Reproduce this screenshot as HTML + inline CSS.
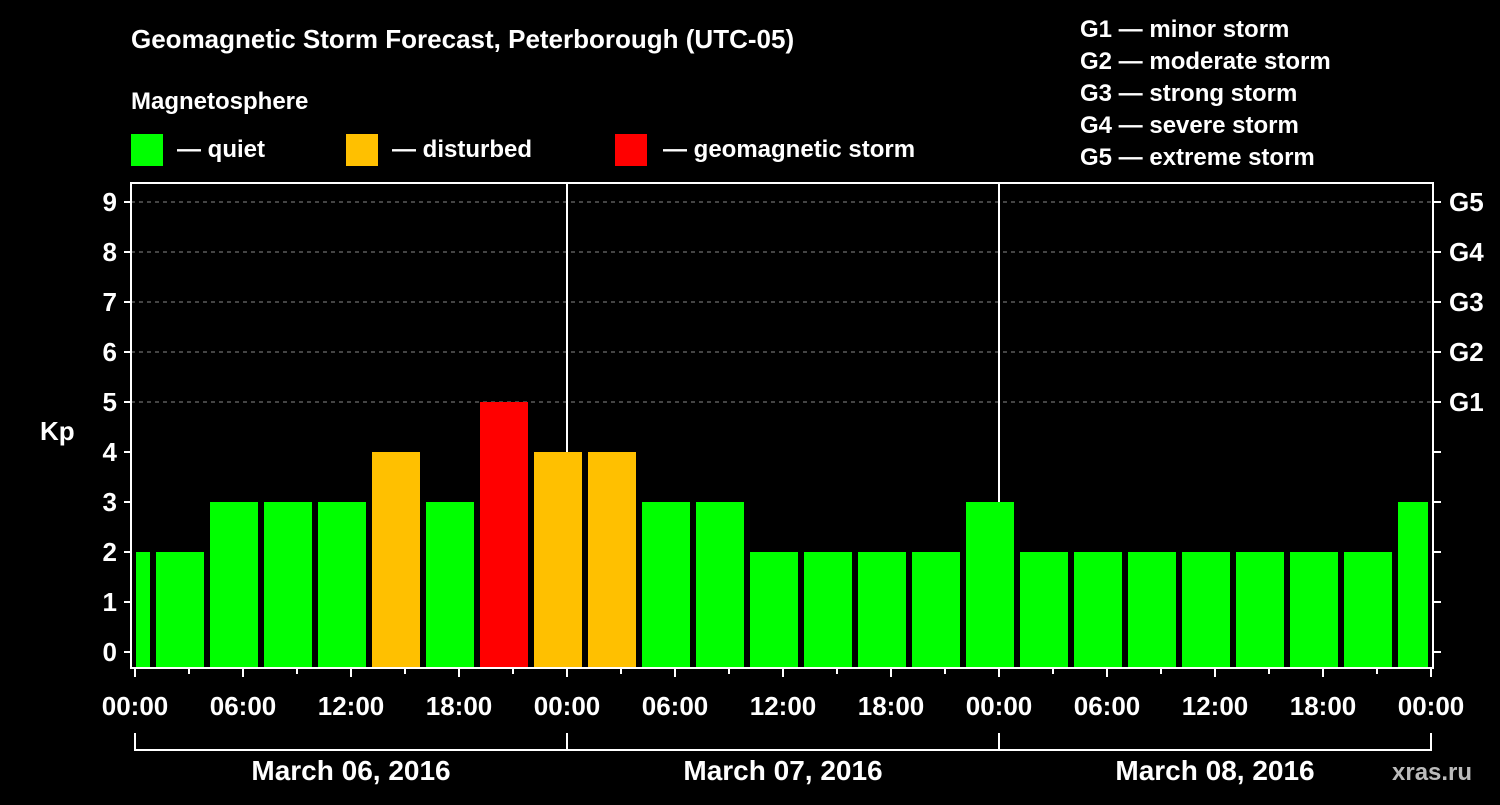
<!DOCTYPE html>
<html><head><meta charset="utf-8"><style>
body{margin:0;background:#000;}
svg text{font-family:"Liberation Sans",Arial,sans-serif;font-weight:bold;fill:#fff;}
</style></head><body>
<svg width="1500" height="800" viewBox="0 0 1500 800">
<rect width="1500" height="800" fill="#000"/>
<text x="131" y="48" font-size="26">Geomagnetic Storm Forecast, Peterborough (UTC-05)</text>
<text x="131" y="109" font-size="24">Magnetosphere</text>
<g><rect x="131" y="134" width="32" height="32" fill="#00ff00"/><text x="177" y="157" font-size="24">— quiet</text></g>
<g><rect x="346" y="134" width="32" height="32" fill="#ffc000"/><text x="392" y="157" font-size="24">— disturbed</text></g>
<g><rect x="615" y="134" width="32" height="32" fill="#ff0000"/><text x="663" y="157" font-size="24">— geomagnetic storm</text></g>
<g font-size="24">
<text x="1080" y="37">G1 — minor storm</text>
<text x="1080" y="69">G2 — moderate storm</text>
<text x="1080" y="101">G3 — strong storm</text>
<text x="1080" y="133">G4 — severe storm</text>
<text x="1080" y="165">G5 — extreme storm</text>
</g>
<g id="plot"></g>
<text x="40" y="440" font-size="26">Kp</text>
<text x="1392" y="780" font-size="24" fill="#bbb" style="fill:#bbbbbb">xras.ru</text>
</svg>
<script>
const kpValues=[2,2,3,3,3,4,3,5,4,4,3,3,2,2,2,2,3,2,2,2,2,2,2,2,3];
const yTicks=[0,1,2,3,4,5,6,7,8,9];
const gLabels=["G1","G2","G3","G4","G5"];
const xTickLabels=["00:00","06:00","12:00","18:00","00:00","06:00","12:00","18:00","00:00","06:00","12:00","18:00","00:00"];
const dayLabels=["March 06, 2016","March 07, 2016","March 08, 2016"];
const NS="http://www.w3.org/2000/svg";
const L=131,R=1433,T=183,B=668;
const x=h=>135+h*18; // hours from start
const y=v=>652-v*50;
const g=document.getElementById('plot');
function el(t,a,p){const e=document.createElementNS(NS,t);for(const k in a)e.setAttribute(k,a[k]);(p||g).appendChild(e);return e;}
// grid
for(let v=5;v<=9;v++){const e=el('line',{x1:L,x2:R,y1:y(v),y2:y(v),stroke:'#888','stroke-dasharray':'4,4','stroke-width':1});

}
// day separators
[1,2].forEach(d=>{const e=el('line',{x1:x(d*24),x2:x(d*24),y1:T,y2:B,stroke:'#fff','stroke-width':2});

});
// bars
kpValues.forEach((v,i)=>{let h0=-2+i*3,h1=h0+3;let x0=x(h0)+3,x1=x(h1)-3;x0=Math.max(x0,x(0)+1);x1=Math.min(x1,x(72)-3);
const c=v>=5?'#ff0000':(v>=4?'#ffc000':'#00ff00');
const e=el('rect',{x:x0,y:y(v),width:x1-x0,height:B-y(v),fill:c});

});
// frame
const f=el('rect',{x:L,y:T,width:R-L,height:B-T,fill:'none',stroke:'#fff','stroke-width':2});


// y ticks
yTicks.forEach(v=>{el('line',{x1:L-7,x2:L,y1:y(v),y2:y(v),stroke:'#fff','stroke-width':2});
el('line',{x1:R,x2:R+8,y1:y(v),y2:y(v),stroke:'#fff','stroke-width':2});
const t=el('text',{x:L-14,y:y(v)+9,'font-size':26,'text-anchor':'end'});t.textContent=v;

});
gLabels.forEach((s,i)=>{const t=el('text',{x:1449,y:y(5+i)+9,'font-size':26});t.textContent=s;

});
// x ticks
for(let h=0;h<=72;h+=3){el('line',{x1:x(h),x2:x(h),y1:B,y2:B+(h%6==0?9:6),stroke:'#fff','stroke-width':2});}
xTickLabels.forEach((s,i)=>{const t=el('text',{x:x(i*6),y:715,'font-size':26,'text-anchor':'middle'});t.textContent=s;

});
// day brackets
dayLabels.forEach((s,i)=>{const x0=x(i*24),x1=x(i*24+24);
el('path',{d:`M${x0},733V750H${x1}V733`,fill:'none',stroke:'#fff','stroke-width':2});
const t=el('text',{x:(x0+x1)/2,y:780,'font-size':28,'text-anchor':'middle'});t.textContent=s;

});
</script>
</body></html>
